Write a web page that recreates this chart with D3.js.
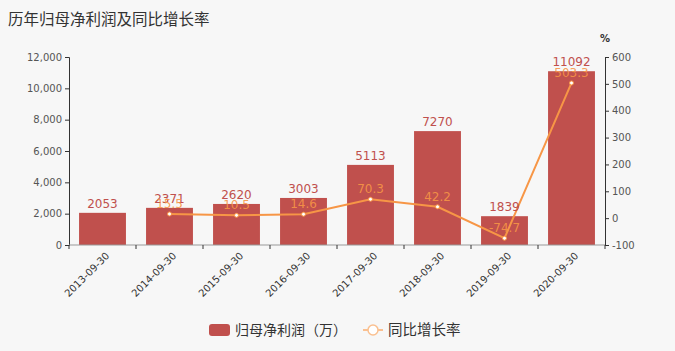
<!DOCTYPE html>
<html>
<head>
<meta charset="utf-8">
<script src="https://cdn.jsdelivr.net/npm/d3@7"></script>
<style>
  body { margin: 0; background: #f7f7f7; }
  svg { display: block; font-family: "DejaVu Sans", "Noto Sans CJK SC", sans-serif; }
</style>
</head>
<body>
<script>
var dates = ["2013-09-30", "2014-09-30", "2015-09-30", "2016-09-30", "2017-09-30", "2018-09-30", "2019-09-30", "2020-09-30"];
var profit = [2053, 2371, 2620, 3003, 5113, 7270, 1839, 11092];
var growth = [null, 15.5, 10.5, 14.6, 70.3, 42.2, -74.7, 503.3];
var leftTicks = [0, 2000, 4000, 6000, 8000, 10000, 12000];
var rightTicks = [-100, 0, 100, 200, 300, 400, 500, 600];

var width = 675, height = 351;
var margin = {top: 57, right: 70, bottom: 106, left: 69};
var barColor = "#c0504d", lineColor = "#f79646";

var svg = d3.select("body").append("svg")
    .attr("width", width)
    .attr("height", height);

svg.append("rect").attr("width", width).attr("height", height).attr("fill", "#f7f7f7");

svg.append("text")
    .attr("x", 8).attr("y", 25)
    .attr("font-size", 15.5)
    .attr("fill", "#333")
    .text("历年归母净利润及同比增长率");

var x = d3.scaleBand()
    .domain(dates)
    .range([margin.left, width - margin.right])
    .paddingInner(0.3)
    .paddingOuter(0.15);

var y = d3.scaleLinear().domain([0, 12000]).range([height - margin.bottom, margin.top]);
var y2 = d3.scaleLinear().domain([-100, 600]).range([height - margin.bottom, margin.top]);

// bars
svg.append("g")
  .selectAll("rect")
  .data(dates)
  .join("rect")
    .attr("x", d => x(d))
    .attr("y", (d, i) => y(profit[i]))
    .attr("width", x.bandwidth())
    .attr("height", (d, i) => y(0) - y(profit[i]))
    .attr("fill", barColor);

// left axis
var gl = svg.append("g")
    .attr("transform", `translate(${margin.left},0)`)
    .call(d3.axisLeft(y).tickValues(leftTicks).tickFormat(d3.format(",")).tickSize(4).tickPadding(3));
// right axis
var gr = svg.append("g")
    .attr("transform", `translate(${width - margin.right},0)`)
    .call(d3.axisRight(y2).tickValues(rightTicks).tickFormat(d => String(d)).tickSize(4).tickPadding(3));

[gl, gr].forEach(g => {
  g.select(".domain").attr("stroke", "#333");
  g.selectAll(".tick line").attr("stroke", "#333");
  g.selectAll(".tick text").attr("fill", "#555").attr("font-size", 10).attr("font-family", "DejaVu Sans");
});

svg.append("text")
    .attr("x", width - margin.right).attr("y", 42)
    .attr("text-anchor", "middle")
    .attr("font-size", 10).attr("font-weight", "bold").attr("fill", "#333")
    .text("%");

// x axis
var step = x.step();
var bottomY = height - margin.bottom;
var gx = svg.append("g");
gx.append("line")
    .attr("x1", margin.left).attr("x2", width - margin.right)
    .attr("y1", bottomY).attr("y2", bottomY)
    .attr("stroke", "#999");
gx.selectAll("line.tk")
  .data(d3.range(dates.length + 1))
  .join("line")
    .attr("class", "tk")
    .attr("x1", i => margin.left + i * step).attr("x2", i => margin.left + i * step)
    .attr("y1", bottomY).attr("y2", bottomY + 4)
    .attr("stroke", "#333");
gx.selectAll("text")
  .data(dates)
  .join("text")
    .attr("transform", d => `translate(${x(d) + x.bandwidth() / 2 + 5},${bottomY + 9}) rotate(-45)`)
    .attr("text-anchor", "end")
    .attr("dy", "0.35em")
    .attr("font-size", 10)
    .attr("fill", "#333")
    .text(d => d);

// line
var pts = dates.map((d, i) => ({d: d, v: growth[i]})).filter(p => p.v !== null);
var line = d3.line()
    .x(p => x(p.d) + x.bandwidth() / 2)
    .y(p => y2(p.v));
svg.append("path")
    .datum(pts)
    .attr("d", line)
    .attr("fill", "none")
    .attr("stroke", lineColor)
    .attr("stroke-width", 2);
svg.append("g")
  .selectAll("circle")
  .data(pts)
  .join("circle")
    .attr("cx", p => x(p.d) + x.bandwidth() / 2)
    .attr("cy", p => y2(p.v))
    .attr("r", 2)
    .attr("fill", "#fff")
    .attr("stroke", lineColor)
    .attr("stroke-width", 1);

// bar labels
svg.append("g")
  .selectAll("text")
  .data(dates)
  .join("text")
    .attr("x", d => x(d) + x.bandwidth() / 2)
    .attr("y", (d, i) => y(profit[i]) - 5)
    .attr("text-anchor", "middle")
    .attr("font-size", 12)
    .attr("fill", barColor)
    .text((d, i) => profit[i]);

// line labels
svg.append("g")
  .selectAll("text")
  .data(pts)
  .join("text")
    .attr("x", p => x(p.d) + x.bandwidth() / 2)
    .attr("y", p => y2(p.v) - 6)
    .attr("text-anchor", "middle")
    .attr("font-size", 12)
    .attr("fill", lineColor)
    .attr("fill-opacity", 0.9)
    .text(p => p.v);

// legend
var lg = svg.append("g").attr("transform", "translate(0,330)");
lg.append("rect")
    .attr("x", 209).attr("y", -6).attr("width", 21).attr("height", 12)
    .attr("rx", 3).attr("fill", barColor);
lg.append("text")
    .attr("x", 235).attr("y", 0).attr("dy", "0.35em")
    .attr("font-size", 14).attr("fill", "#333")
    .text("归母净利润（万）");
lg.append("line")
    .attr("x1", 363).attr("x2", 383).attr("y1", 0).attr("y2", 0)
    .attr("stroke", "#fac090").attr("stroke-width", 2);
lg.append("circle")
    .attr("cx", 373).attr("cy", 0).attr("r", 5)
    .attr("fill", "#fff").attr("stroke", "#fac090").attr("stroke-width", 1.5);
lg.append("text")
    .attr("x", 388).attr("y", 0).attr("dy", "0.35em")
    .attr("font-size", 14.5).attr("fill", "#333")
    .text("同比增长率");
</script>
</body>
</html>
